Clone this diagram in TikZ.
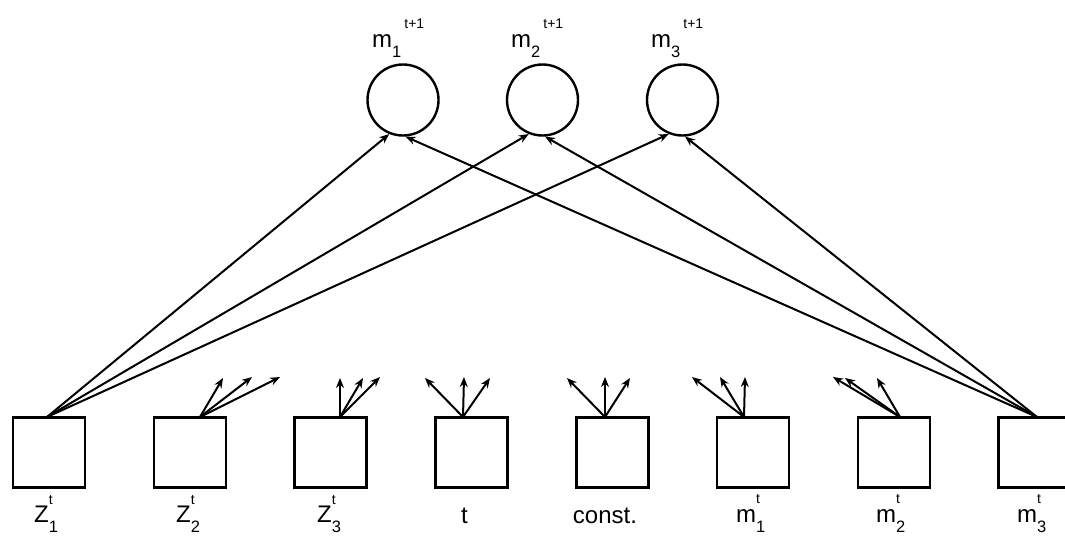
\documentclass[tikz,border=0pt]{standalone}
\usepackage{fontspec}
\setmainfont{Liberation Sans}
\usetikzlibrary{arrows.meta}
\newcommand\lowidx[1]{\raisebox{-10pt}{\fontsize{16.5}{17}\selectfont #1}}
\newcommand\highidx[2]{\raisebox{#1}{\fontsize{14}{14}\selectfont #2}}
\begin{document}
\begin{tikzpicture}[x=1pt,y=-1pt,
  unit/.style={draw,line width=2.6pt,minimum width=72pt,minimum height=70pt,inner sep=0pt},
  neuron/.style={draw,circle,line width=2.4pt,minimum size=71pt,inner sep=0pt},
  link/.style={line width=2pt,-{Stealth[length=10pt,width=8pt]}},
  lab/.style={inner sep=0pt,anchor=base west,font=\fontsize{24}{27}\selectfont}]
\useasboundingbox (0,0) rectangle (1065,536);
\clip (0,0) rectangle (1065,536);

% output layer
\node[neuron] (c1) at (403,100) {};
\node[neuron] (c2) at (542.5,100) {};
\node[neuron] (c3) at (682.5,100) {};
\node[lab] (lc1) at (372,47) {m\lowidx{1}\hspace{3pt}\highidx{19pt}{t+1}};
\node[lab] (lc2) at (511,47) {m\lowidx{2}\hspace{3pt}\highidx{19pt}{t+1}};
\node[lab] (lc3) at (651,47) {m\lowidx{3}\hspace{3pt}\highidx{19pt}{t+1}};

% input layer
\foreach \i/\x in {1/49,2/189.8,3/330.6,4/471.4,5/612.2,6/753,7/893.8,8/1034.6}
  \node[unit] (b\i) at (\x,452.5) {};

\node[lab] (lb1) at (34,522) {Z\rlap{\lowidx{1}}\highidx{18pt}{t}};
\node[lab] (lb2) at (176,522) {Z\rlap{\lowidx{2}}\highidx{18pt}{t}};
\node[lab] (lb3) at (317,522) {Z\rlap{\lowidx{3}}\highidx{18pt}{t}};
\node[lab,anchor=base] (lb4) at (464.5,523) {t};
\node[lab,anchor=base] (lb5) at (605,523) {const.};
\node[lab] (lb6) at (736,522) {m\rlap{\lowidx{1}}\highidx{19pt}{t}};
\node[lab] (lb7) at (876,522) {m\rlap{\lowidx{2}}\highidx{19pt}{t}};
\node[lab] (lb8) at (1017,522) {m\rlap{\lowidx{3}}\highidx{19pt}{t}};

% points where the weights leave each unit
\coordinate (o1) at (47,417);
\coordinate (o2) at (200,417);
\coordinate (o3) at (340,417);
\coordinate (o4) at (463,417);
\coordinate (o5) at (605,417);
\coordinate (o6) at (744,417);
\coordinate (o7) at (900,417);
\coordinate (o8) at (1037,417);

% full connections
\foreach \c in {c1,c2,c3} {
  \draw[link] (o1) -- (\c.-112);
  \draw[link] (o8) -- (\c.-86);
}

% remaining weights, drawn as short stubs
\coordinate (s2a) at (223,378); \coordinate (s2b) at (252,377); \coordinate (s2c) at (280,377);
\coordinate (s3a) at (340,378); \coordinate (s3b) at (363,378); \coordinate (s3c) at (380,377);
\coordinate (s4a) at (425,378); \coordinate (s4b) at (464,377); \coordinate (s4c) at (490,378);
\coordinate (s5a) at (567,378); \coordinate (s5b) at (605,377); \coordinate (s5c) at (630,378);
\coordinate (s6a) at (692,377); \coordinate (s6b) at (720,377); \coordinate (s6c) at (745,377);
\coordinate (s7a) at (833,377); \coordinate (s7b) at (845,378); \coordinate (s7c) at (877,378);
\foreach \k in {2,...,7}
  \foreach \s in {a,b,c}
    \draw[link] (o\k) -- (s\k\s);
\end{tikzpicture}
\end{document}
